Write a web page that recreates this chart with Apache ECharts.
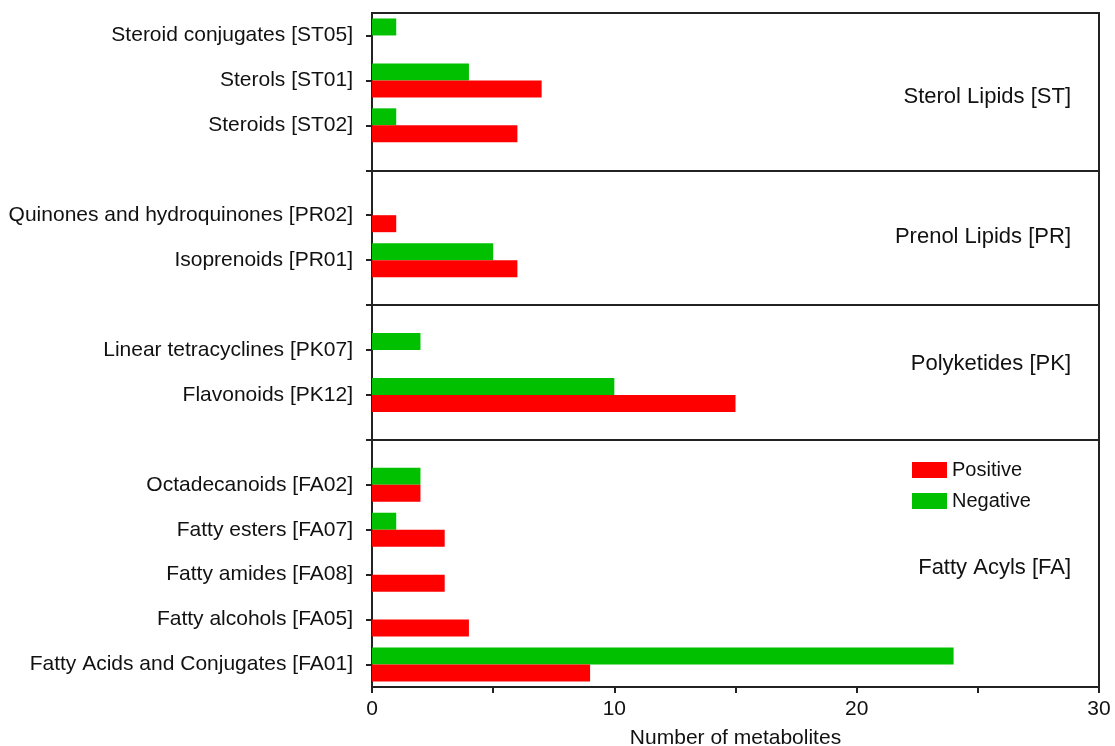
<!DOCTYPE html>
<html>
<head>
<meta charset="utf-8">
<title>Number of metabolites by lipid class</title>
<script src="https://cdn.jsdelivr.net/npm/echarts@6/dist/echarts.min.js"></script>
<style>
  html, body { margin: 0; padding: 0; background: #fff; }
  #chart { width: 1115px; height: 746px; }
</style>
</head>
<body>
<div id="chart"></div>
<script>
// Sub-classes listed bottom to top; blank entries separate the main classes.
const categories = [
  'Fatty Acids and Conjugates [FA01]',
  'Fatty alcohols [FA05]',
  'Fatty amides [FA08]',
  'Fatty esters [FA07]',
  'Octadecanoids [FA02]',
  ' ',
  'Flavonoids [PK12]',
  'Linear tetracyclines [PK07]',
  '  ',
  'Isoprenoids [PR01]',
  'Quinones and hydroquinones [PR02]',
  '   ',
  'Steroids [ST02]',
  'Sterols [ST01]',
  'Steroid conjugates [ST05]'
];
const separators = [' ', '  ', '   '];
const positive = [9, 4, 3, 3, 2, null, 15, 0, null, 6, 1, null, 6, 7, 0];
const negative = [24, 0, 0, 1, 2, null, 10, 2, null, 5, 0, null, 1, 4, 1];
const xTicks = [0, 10, 20, 30];
const groupLabels = ['Fatty Acyls [FA]', 'Polyketides [PK]', 'Prenol Lipids [PR]', 'Sterol Lipids [ST]'];

const FONT = 'Liberation Sans, Arial, sans-serif';
const chart = echarts.init(document.getElementById('chart'));

const grid = { left: 372, right: 16, top: 13, bottom: 59 };

chart.setOption({
  animation: false,
  grid: Object.assign({
    show: true, borderColor: '#222', borderWidth: 2,
    containLabel: false, outerBoundsMode: 'none'
  }, grid),
  legend: {
    orient: 'vertical',
    left: 912, top: 460,
    padding: 0,
    icon: 'rect',
    itemWidth: 35, itemHeight: 16, itemGap: 11,
    textStyle: { fontFamily: FONT, fontSize: 20, color: '#111' },
    data: ['Positive', 'Negative']
  },
  xAxis: {
    type: 'value',
    min: 0, max: 30, interval: 5,
    name: 'Number of metabolites',
    nameLocation: 'middle',
    nameGap: 41,
    nameTextStyle: { fontFamily: FONT, fontSize: 21, color: '#111' },
    axisLine: { show: true, lineStyle: { color: '#222', width: 2 } },
    axisTick: { show: true, length: 6, lineStyle: { color: '#222', width: 2 } },
    splitLine: { show: false },
    axisLabel: {
      fontFamily: FONT, fontSize: 21, color: '#111', margin: 12,
      formatter: v => xTicks.includes(v) ? String(v) : ''
    }
  },
  yAxis: {
    type: 'category',
    data: categories,
    axisLine: { show: true, lineStyle: { color: '#222', width: 2 } },
    axisTick: { show: true, alignWithLabel: true, length: 6, interval: 0, lineStyle: { color: '#222', width: 2 } },
    axisLabel: {
      fontFamily: FONT, fontSize: 21, color: '#111', margin: 19, interval: 0,
      padding: [0, 0, 8, 0],
      formatter: v => v.trim()
    },
    splitLine: { show: false }
  },
  series: [
    {
      // Negative is listed first so its bar sits above the Positive bar in each row
      name: 'Negative',
      type: 'bar',
      data: negative,
      barWidth: 17,
      barGap: '0%',
      itemStyle: { color: '#00c000' }
    },
    {
      name: 'Positive',
      type: 'bar',
      data: positive,
      barWidth: 17,
      barGap: '0%',
      itemStyle: { color: '#ff0000' }
    },
    {
      // Panel dividers through the blank rows
      name: 'dividers',
      type: 'line',
      data: [],
      silent: true,
      markLine: {
        silent: true,
        symbol: 'none',
        label: { show: false },
        lineStyle: { color: '#222', width: 2, type: 'solid' },
        data: separators.map(s => ({ yAxis: categories.indexOf(s) }))
      }
    }
  ]
});

// Main-class names, right-aligned inside each panel.
const rightX = 1115 - grid.right - 28;
const groupY = [568, 364, 237, 97];
chart.setOption({
  graphic: groupLabels.map((t, i) => ({
    type: 'text',
    x: rightX,
    y: groupY[i],
    style: {
      text: t,
      fill: '#111',
      font: '22px ' + FONT,
      textAlign: 'right',
      textVerticalAlign: 'middle'
    }
  }))
});
</script>
</body>
</html>
